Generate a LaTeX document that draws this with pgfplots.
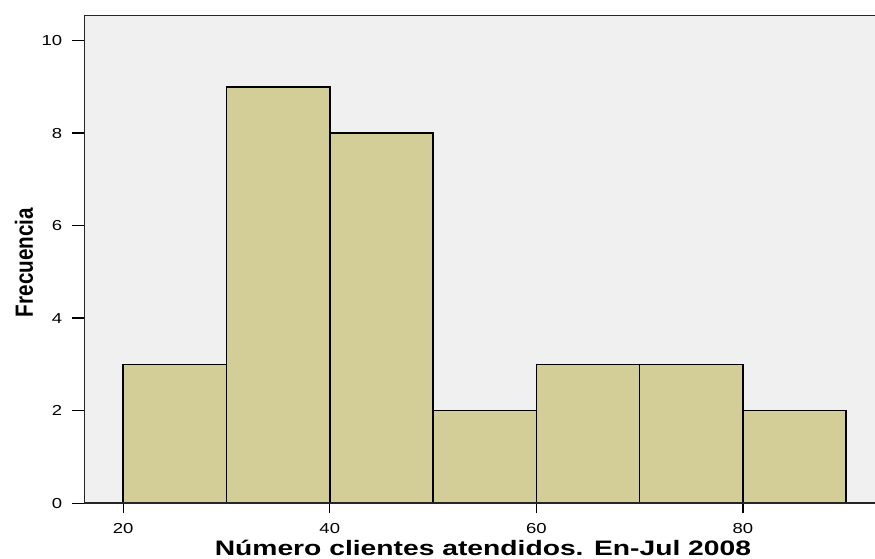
\documentclass[border=0pt]{standalone}
\usepackage{pgfplots}
\pgfplotsset{compat=1.18}
\usepackage{fontspec}
\setmainfont{Liberation Sans}
\usepackage{graphicx}
\definecolor{bgc}{RGB}{240,240,240}
\definecolor{barc}{RGB}{211,206,152}
\begin{document}
\begin{tikzpicture}
\useasboundingbox (0,0) rectangle (875bp,559bp);
\begin{axis}[
  at={(84bp,55.7bp)}, anchor=south west,
  scale only axis, width=791bp, height=487.8bp,
  xmin=16.2, xmax=92.8, ymin=0, ymax=10.54,
  xtick={20,40,60,80}, ytick={0,2,4,6,8,10},
  minor tick num=0,
  tick align=outside, xtick pos=left, ytick pos=left,
  axis line style={draw=none},
  axis background/.style={fill=bgc},
  xtick style={black, line width=1.4bp, /pgfplots/major tick length=9.5bp},
  ytick style={black, line width=1.4bp, /pgfplots/major tick length=12bp},
  tick label style={font=\fontsize{14.5}{15}\selectfont, inner sep=0pt},
  xticklabel={\scalebox{1.28}[1]{\pgfmathprintnumber[assume math mode=true]{\tick}}},
  yticklabel={\scalebox{1.28}[1]{\pgfmathprintnumber[assume math mode=true]{\tick}}},
  xticklabel style={anchor=north, yshift=-16bp},
  yticklabel style={anchor=east, xshift=-17.3bp},
  xlabel={\scalebox{1.35}[1]{\fontsize{21}{21}\selectfont\bfseries Número clientes atendidos. En-Jul 2008}},
  xlabel style={at={(axis description cs:0.5043,-0.1065)}, anchor=base, inner sep=0pt},
  ylabel={\scalebox{0.83}[1]{\fontsize{25}{25}\selectfont\bfseries Frecuencia}},
  ylabel style={at={(axis description cs:-0.0645,0.4937)}, anchor=base, inner sep=0pt},
]
\addplot[ybar interval, fill=barc, draw=black, line width=1.5bp]
  coordinates {(20,3) (30,9) (40,8) (50,2) (60,3) (70,3) (80,2) (90,2)};
\draw[line width=1.6bp, black!85, line join=miter]
  (rel axis cs:1,1) -- (rel axis cs:0,1) -- (rel axis cs:0,0) -- (rel axis cs:1,0);
\end{axis}
\end{tikzpicture}
\end{document}
